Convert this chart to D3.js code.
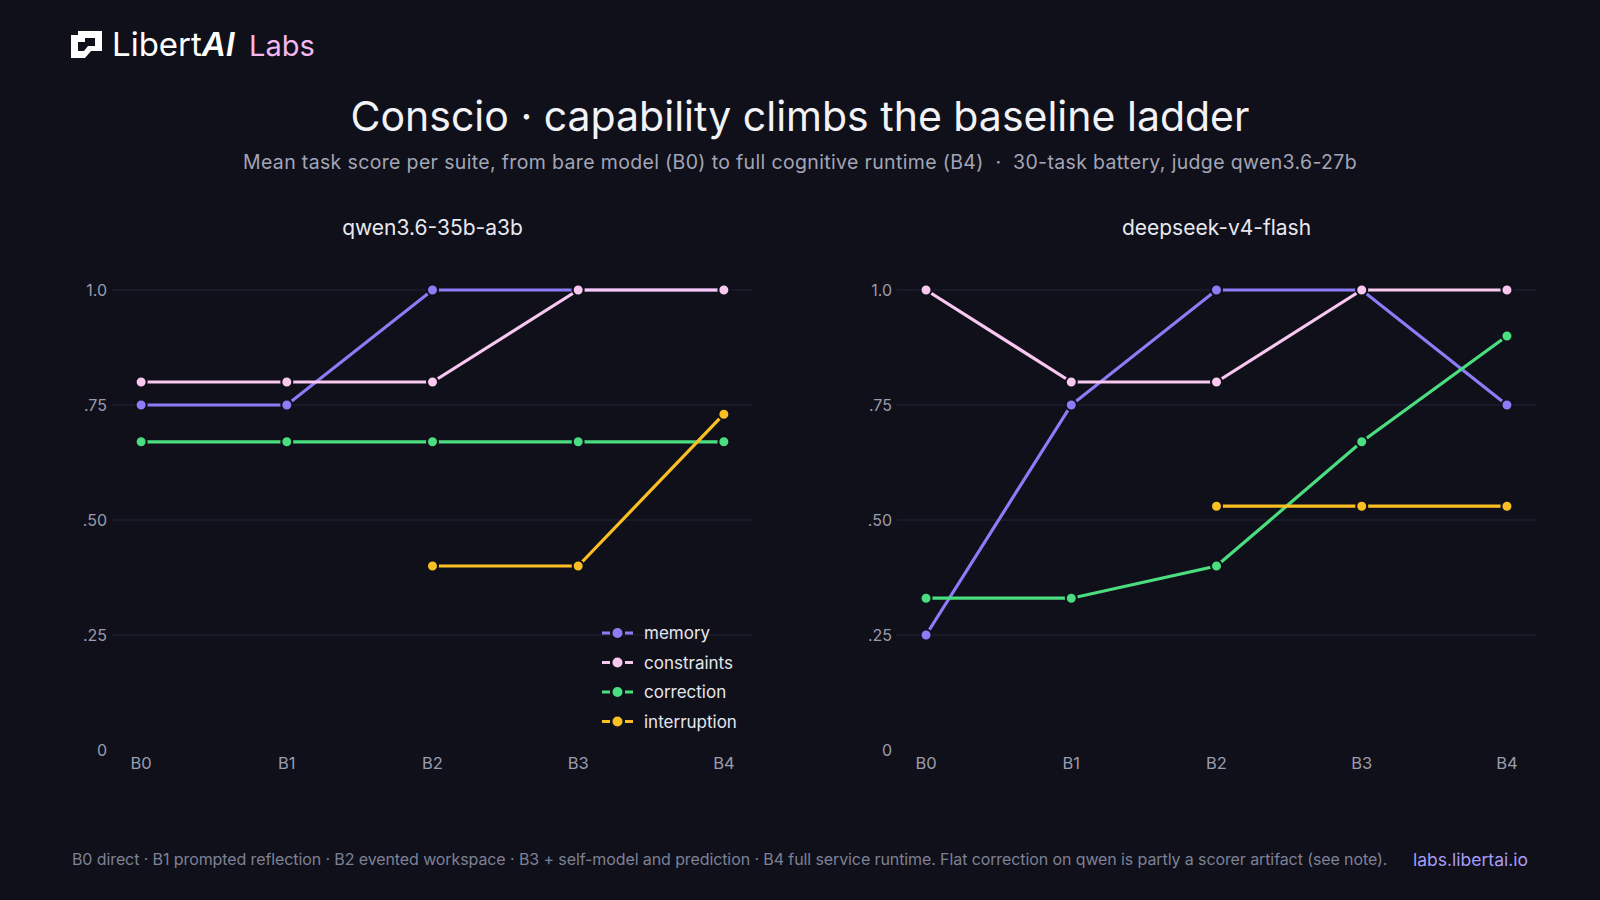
<!DOCTYPE html>
<html>
<head>
<meta charset="utf-8">
<script src="https://cdn.jsdelivr.net/npm/d3@7"></script>
<style>
  html, body { margin: 0; padding: 0; background: #0f1019; }
  svg { display: block; font-family: Inter, "Noto Sans", sans-serif; }
</style>
</head>
<body>
<svg id="chart" width="1600" height="900"></svg>
<script>
const stages = ["B0", "B1", "B2", "B3", "B4"];
const suites = ["memory", "constraints", "correction", "interruption"];
const yTicks = [0, 0.25, 0.5, 0.75, 1.0];
const yTickLabels = ["0", ".25", ".50", ".75", "1.0"];

const qwenScores = {
    memory:       [0.75, 0.75, 1.0, 1.0, 1.0],
    constraints:  [0.80, 0.80, 0.80, 1.0, 1.0],
    correction:   [0.67, 0.67, 0.67, 0.67, 0.67],
    interruption: [null, null, 0.40, 0.40, 0.73]
};
const deepseekScores = {
    memory:       [0.25, 0.75, 1.0, 1.0, 0.75],
    constraints:  [1.0, 0.80, 0.80, 1.0, 1.0],
    correction:   [0.33, 0.33, 0.40, 0.67, 0.90],
    interruption: [null, null, 0.53, 0.53, 0.53]
};

const colors = {
    memory: "#8b7cf8",
    constraints: "#f8c8f0",
    correction: "#4ade80",
    interruption: "#fbbf24"
};
const bg = "#0f1019";

const svg = d3.select("#chart");
svg.append("rect").attr("width", 1600).attr("height", 900).attr("fill", bg);

// logo
const logo = svg.append("g").attr("transform", "translate(71,31)");
logo.append("path")
    .attr("d", "M0,4 L7,4 L7,0 L31,0 L31,20 L20,20 L14,27 L0,27 Z M7,11 L7,20 L13,20 L17,15 L24,15 L24,7 L14,7 L14,11 Z")
    .attr("fill", "#ffffff").attr("fill-rule", "evenodd");
const brand = svg.append("text").attr("x", 112).attr("y", 56)
    .attr("font-size", 33).attr("fill", "#ffffff").attr("font-weight", 400);
brand.append("tspan").text("Libert");
brand.append("tspan").text("AI").attr("font-style", "italic").attr("font-weight", 600);
svg.append("text").attr("x", 249).attr("y", 56).attr("font-size", 29)
    .attr("fill", "#f2b8ef").text("Labs");

// titles
svg.append("text").attr("x", 800).attr("y", 131).attr("text-anchor", "middle")
    .attr("font-size", 41).attr("font-weight", 400)
    .attr("fill", "#f2f2f7").text("Conscio · capability climbs the baseline ladder");
svg.append("text").attr("x", 800).attr("y", 169).attr("text-anchor", "middle")
    .attr("font-size", 19.5).attr("fill", "#a3a5b7").attr("letter-spacing", 0.35)
    .text("Mean task score per suite, from bare model (B0) to full cognitive runtime (B4)\u00a0\u00a0·\u00a0\u00a030-task battery, judge qwen3.6-27b");

const y = d3.scaleLinear().domain([0, 1]).range([750, 290]);

function drawPanel(left, right, title, scores, withLegend) {
    const x = d3.scalePoint().domain(stages).range([left, right]).padding(0.2);
    const g = svg.append("g");

    g.append("text").attr("x", (left + right) / 2).attr("y", 235).attr("text-anchor", "middle")
        .attr("font-size", 21).attr("fill", "#e8e8f0").text(title);

    // grid
    g.selectAll(".grid").data(yTicks.filter(d => d > 0)).enter().append("line")
        .attr("x1", left).attr("x2", right)
        .attr("y1", d => y(d)).attr("y2", d => y(d))
        .attr("stroke", "#23253a").attr("stroke-width", 1);

    g.selectAll(".ylab").data(yTicks).enter().append("text")
        .attr("x", left - 5).attr("y", d => y(d) + 5.5)
        .attr("text-anchor", "end").attr("font-size", 16).attr("fill", "#9a9cad")
        .text((d, i) => yTickLabels[i]);

    g.selectAll(".xlab").data(stages).enter().append("text")
        .attr("x", d => x(d)).attr("y", 769).attr("text-anchor", "middle")
        .attr("font-size", 16.5).attr("fill", "#9a9cad").text(d => d);

    const line = d3.line()
        .defined(d => d.v != null)
        .x(d => x(d.s)).y(d => y(d.v));

    suites.forEach(name => {
        const pts = stages.map((s, i) => ({ s: s, v: scores[name][i] }));
        g.append("path").datum(pts)
            .attr("fill", "none").attr("stroke", colors[name])
            .attr("stroke-width", 3.2).attr("d", line);
        g.selectAll(".pt-" + name).data(pts.filter(d => d.v != null)).enter().append("circle")
            .attr("cx", d => x(d.s)).attr("cy", d => y(d.v)).attr("r", 5.5)
            .attr("fill", colors[name]).attr("stroke", bg).attr("stroke-width", 2);
    });

    if (withLegend) {
        const lg = g.append("g").attr("transform", "translate(602,633)");
        suites.forEach((name, i) => {
            const row = lg.append("g").attr("transform", `translate(0,${i * 29.5})`);
            row.append("line").attr("x1", 0).attr("x2", 31).attr("y1", 0).attr("y2", 0)
                .attr("stroke", colors[name]).attr("stroke-width", 3.2).attr("stroke-dasharray", "8,15,8");
            row.append("circle").attr("cx", 15.5).attr("cy", 0).attr("r", 5)
                .attr("fill", colors[name]);
            row.append("text").attr("x", 42).attr("y", 6).attr("font-size", 17)
                .attr("fill", "#e6e6ee").text(name);
        });
    }
}

drawPanel(112, 753, "qwen3.6-35b-a3b", qwenScores, true);
drawPanel(897, 1536, "deepseek-v4-flash", deepseekScores, false);

// footer
svg.append("text").attr("x", 72).attr("y", 865).attr("font-size", 16).attr("fill", "#7e8196")
    .attr("letter-spacing", -0.1)
    .text("B0 direct · B1 prompted reflection · B2 evented workspace · B3 + self-model and prediction · B4 full service runtime. Flat correction on qwen is partly a scorer artifact (see note).");
svg.append("text").attr("x", 1528).attr("y", 866).attr("text-anchor", "end").attr("font-size", 17.5)
    .attr("fill", "#a99cf8").text("labs.libertai.io");
</script>
</body>
</html>
